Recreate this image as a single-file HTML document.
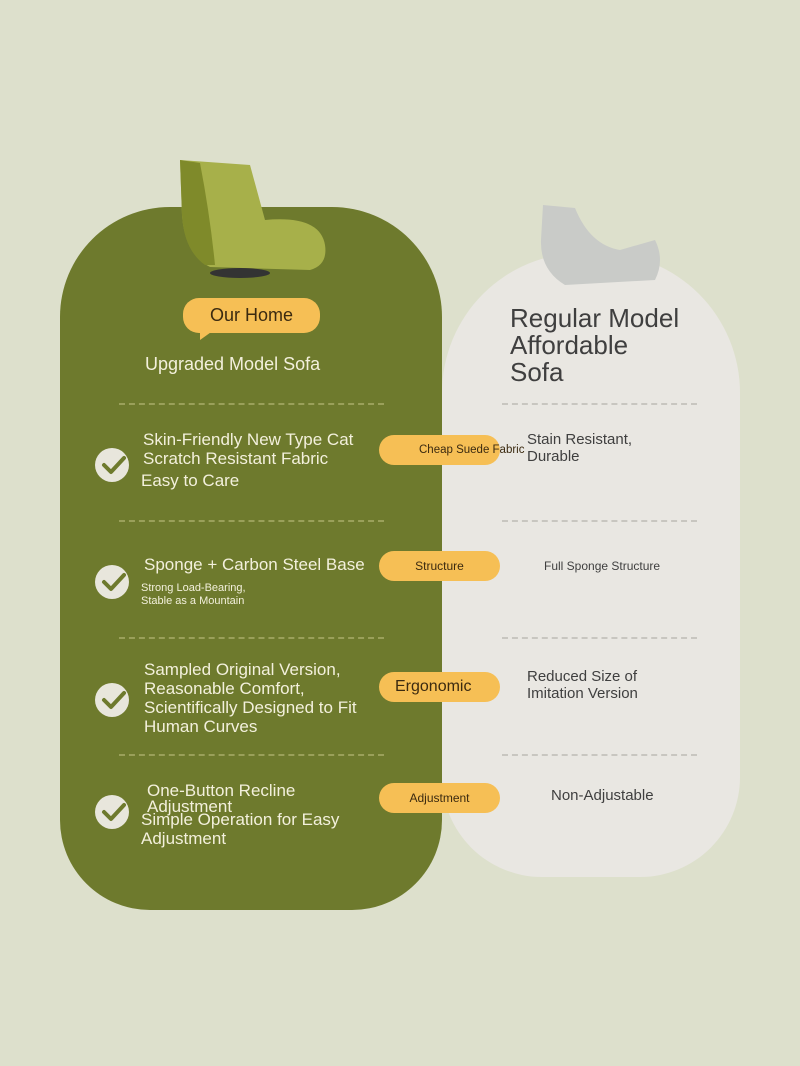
<!DOCTYPE html>
<html><head><style>
body{margin:0;width:800px;height:1066px;background:#dde0cc;position:relative;overflow:hidden;font-family:"Liberation Sans",sans-serif}
.a{position:absolute}
.g{left:60px;top:207px;width:382px;height:703px;background:#6e7a2d;border-radius:110px 110px 90px 90px}
.w{left:442px;top:253px;width:298px;height:624px;background:#e9e7e2;border-radius:140px 140px 100px 100px}
.t{color:#f3f0dc;font-size:17px;line-height:19px}
.d{color:#3f3f3f;font-size:15px;line-height:17px}
.pill{background:#f6bf55;border-radius:16px;height:30px;color:#3b2a10;font-size:12px;line-height:30px;text-align:center}
.dl{height:0;border-top:2px dashed #9aa05a}
.dr{height:0;border-top:2px dashed #c8c6c0}
.ck{width:34px;height:34px;border-radius:50%;background:#e8e6dc}
</style></head><body>
<div class="a g"></div>
<div class="a w"></div>
<svg class="a" style="left:170px;top:155px" width="160" height="130"><path d="M10 5 L80 10 L95 65 Q150 60 155 90 Q158 110 140 115 L40 112 Q15 100 12 60 Z" fill="#a7b04a"/><path d="M10 5 L30 8 Q40 60 45 110 L35 110 Q14 95 12 60Z" fill="#7f8a2a"/><ellipse cx="70" cy="118" rx="30" ry="5" fill="#333"/></svg>
<svg class="a" style="left:535px;top:200px" width="135" height="90"><path d="M8 5 L40 8 Q55 45 85 50 L120 40 Q130 60 120 80 L30 85 Q5 70 6 40Z" fill="#c9cbc8"/></svg>
<div class="a pill" style="left:183px;top:298px;width:137px;height:35px;line-height:35px;font-size:18px">Our Home</div>
<div class="a" style="left:200px;top:330px;width:0;height:0;border-left:0 solid transparent;border-right:14px solid transparent;border-top:10px solid #f6bf55"></div>
<div class="a t" style="left:145px;top:355px;font-size:18px">Upgraded Model Sofa</div>
<div class="a d" style="left:510px;top:305px;font-size:26px;line-height:27px">Regular Model<br>Affordable<br>Sofa</div>
<div class="a dl" style="left:119px;top:403px;width:265px"></div><div class="a dr" style="left:502px;top:403px;width:195px"></div>
<div class="a dl" style="left:119px;top:520px;width:265px"></div><div class="a dr" style="left:502px;top:520px;width:195px"></div>
<div class="a dl" style="left:119px;top:637px;width:265px"></div><div class="a dr" style="left:502px;top:637px;width:195px"></div>
<div class="a dl" style="left:119px;top:754px;width:265px"></div><div class="a dr" style="left:502px;top:754px;width:195px"></div>
<div class="a ck" style="left:95px;top:448px"></div><div class="a ck" style="left:95px;top:565px"></div><div class="a ck" style="left:95px;top:683px"></div><div class="a ck" style="left:95px;top:795px"></div>
<div class="a t" style="left:143px;top:430px">Skin-Friendly New Type Cat<br>Scratch Resistant Fabric</div>
<div class="a t" style="left:141px;top:471px">Easy to Care</div>
<div class="a t" style="left:144px;top:555px">Sponge + Carbon Steel Base</div>
<div class="a t" style="left:141px;top:582px;font-size:11px;line-height:13px">Strong Load-Bearing,<br>Stable as a Mountain</div>
<div class="a t" style="left:144px;top:660px">Sampled Original Version,<br>Reasonable Comfort,<br>Scientifically Designed to Fit<br>Human Curves</div>
<div class="a t" style="left:147px;top:783px;line-height:16px">One-Button Recline<br>Adjustment</div>
<div class="a t" style="left:141px;top:810px">Simple Operation for Easy<br>Adjustment</div>
<div class="a pill" style="left:379px;top:435px;width:121px;font-size:11.5px;text-align:left;padding-left:40px;box-sizing:border-box;white-space:nowrap">Cheap Suede Fabric</div>
<div class="a pill" style="left:379px;top:551px;width:121px">Structure</div>
<div class="a pill" style="left:379px;top:672px;width:121px;font-size:16px;text-align:left;padding-left:16px;box-sizing:border-box">Ergonomic</div>
<div class="a pill" style="left:379px;top:783px;width:121px">Adjustment</div>
<div class="a d" style="left:527px;top:431px">Stain Resistant,<br>Durable</div>
<div class="a d" style="left:544px;top:558px;font-size:12px">Full Sponge Structure</div>
<div class="a d" style="left:527px;top:668px">Reduced Size of<br>Imitation Version</div>
<div class="a d" style="left:551px;top:787px">Non-Adjustable</div>
<svg class="a" style="left:0;top:0" width="800" height="1066">
<g fill="none" stroke="#6e7a2d" stroke-width="4" stroke-linecap="round" stroke-linejoin="round">
<path d="M104 465 l7 7 l13 -14"/><path d="M104 582 l7 7 l13 -14"/><path d="M104 700 l7 7 l13 -14"/><path d="M104 812 l7 7 l13 -14"/></g></svg>
</body></html>
